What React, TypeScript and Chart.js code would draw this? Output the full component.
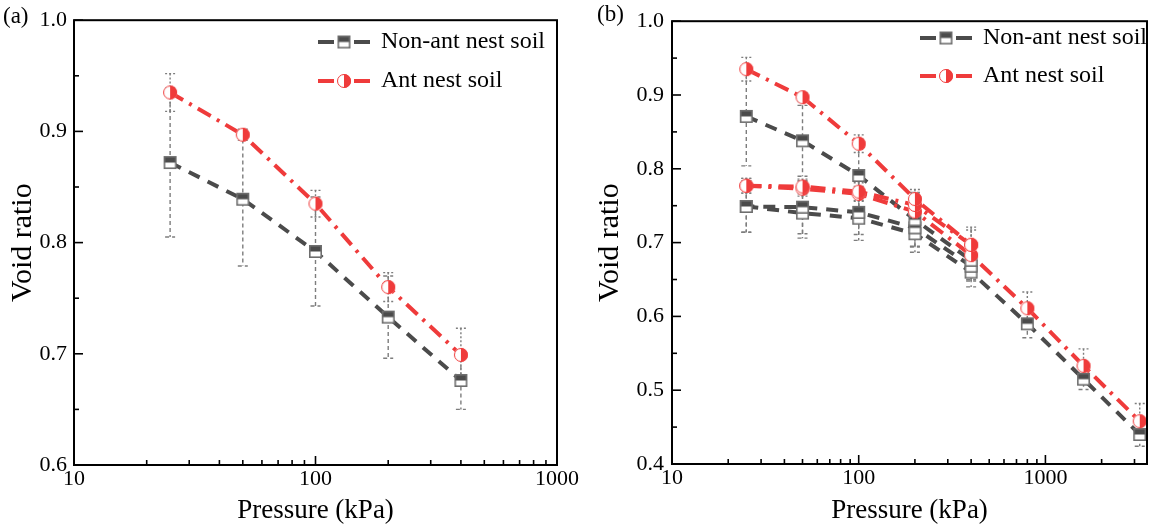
import React, { useEffect, useRef } from 'react';
import { Chart, registerables } from 'chart.js';

Chart.register(...registerables);

const SERIF = "'Liberation Serif', serif";
const GREY = '#4b4b4b';
const RED = '#ef3b3b';
const ERR = '#7d7d7d';

// ---------------- data ----------------
const legendLabels = ['Non-ant nest soil', 'Ant nest soil'];
const panelLabels = ['(a)', '(b)'];
const xTickLabels = [10, 100, 1000];
const yTicksA = [0.6, 0.7, 0.8, 0.9, 1.0];
const yTicksB = [0.4, 0.5, 0.6, 0.7, 0.8, 0.9, 1.0];

// panel (a)
const pressureA = [25, 50, 100, 200, 400];
const nonAntA = [0.872, 0.839, 0.792, 0.733, 0.676];
const nonAntErrA = [0.067, 0.06, 0.049, 0.037, 0.026];
const antA = [0.935, 0.897, 0.835, 0.76, 0.699];
const antErrA = [0.017, 0.005, 0.012, 0.013, 0.024];

// panel (b)
const loadP = [25, 50, 100, 200, 400];
const unloadP = [400, 200, 100, 50, 25];
const reloadP = [25, 50, 100, 200, 400, 800, 1600, 3200];

const nonAntLoadB = [0.871, 0.838, 0.791, 0.731, 0.676];
const nonAntLoadErrB = [0.067, 0.048, 0.049, 0.037, 0.026];
const nonAntUnloadB = [0.668, 0.72, 0.741, 0.748, 0.749];
const nonAntUnloadErrB = [0.02, 0.025, 0.03, 0.036, 0.035];
const nonAntReloadB = [0.749, 0.74, 0.733, 0.712, 0.66, 0.59, 0.515, 0.44];
const nonAntReloadErrB = [0.035, 0.034, 0.03, 0.025, 0.02, 0.019, 0.014, 0.016];

const antLoadB = [0.935, 0.897, 0.834, 0.759, 0.697];
const antLoadErrB = [0.016, 0.006, 0.012, 0.013, 0.024];
const antUnloadB = [0.697, 0.751, 0.769, 0.776, 0.777];
const antUnloadErrB = [0.02, 0.015, 0.012, 0.01, 0.01];
const antReloadB = [0.777, 0.773, 0.766, 0.742, 0.683, 0.611, 0.533, 0.458];
const antReloadErrB = [0.01, 0.01, 0.01, 0.012, 0.015, 0.022, 0.023, 0.024];

// ---------------- markers ----------------
function makeSquare(): HTMLCanvasElement {
  const c = document.createElement('canvas');
  c.width = 15;
  c.height = 15;
  const g = c.getContext('2d')!;
  g.fillStyle = '#ffffff';
  g.fillRect(1, 1, 13, 13);
  g.fillStyle = GREY;
  g.fillRect(1, 1, 13, 6.5);
  g.strokeStyle = '#6e6e6e';
  g.lineWidth = 1.6;
  g.strokeRect(1.8, 1.8, 11.4, 11.4);
  return c;
}

function makeCircle(): HTMLCanvasElement {
  const c = document.createElement('canvas');
  c.width = 16;
  c.height = 16;
  const g = c.getContext('2d')!;
  const cx = 8, cy = 8, r = 7;
  g.fillStyle = '#ffffff';
  g.beginPath();
  g.arc(cx, cy, r, 0, Math.PI * 2);
  g.fill();
  g.fillStyle = RED;
  g.beginPath();
  g.moveTo(cx, cy - r);
  g.arc(cx, cy, r, -Math.PI / 2, Math.PI / 2);
  g.closePath();
  g.fill();
  g.strokeStyle = RED;
  g.lineWidth = 1;
  g.beginPath();
  g.arc(cx, cy, r - 0.5, 0, Math.PI * 2);
  g.stroke();
  return c;
}

type Kind = 'non' | 'ant';
type Series = { x: number[]; y: number[]; err: number[]; kind: Kind };

type PanelCfg = {
  series: Series[];
  xMax: number;
  yMin: number;
  yMax: number;
  yTicks: number[];
  padding: { top: number; right: number; left: number; bottom: number };
  yWidth: number;
  xHeight: number;
  yTitlePad: number;
  yTickPad: number;
  legend: { x: number; y: number; gap: number };
  label: { text: string; x: number; y: number };
};

function buildChart(canvas: HTMLCanvasElement, cfg: PanelCfg): Chart {
  const square = makeSquare();
  const circle = makeCircle();
  const style = (k: Kind) =>
    k === 'non'
      ? { color: GREY, dash: [12, 9], marker: square, errDash: [4, 3] }
      : { color: RED, dash: [15, 7, 3, 7], marker: circle, errDash: [2, 2] };

  // red drawn on top: put 'ant' datasets first
  const ordered = [...cfg.series].sort((a, b) => (a.kind === b.kind ? 0 : a.kind === 'ant' ? -1 : 1));

  const datasets = ordered.map((s) => {
    const st = style(s.kind);
    return {
      label: s.kind,
      data: s.x.map((x, i) => ({ x, y: s.y[i] })),
      borderColor: st.color,
      backgroundColor: st.color,
      borderWidth: 4,
      borderDash: st.dash,
      pointStyle: st.marker,
      pointRadius: 7,
      tension: 0,
      fill: false,
    };
  });

  const xMinor: number[] = [];
  for (let d = 10; d < cfg.xMax; d *= 10) {
    for (let m = 2; m <= 9; m++) {
      if (m * d < cfg.xMax) xMinor.push(m * d);
    }
  }
  const yMinor: number[] = [];
  for (let i = 0; i < cfg.yTicks.length - 1; i++) yMinor.push((cfg.yTicks[i] + cfg.yTicks[i + 1]) / 2);

  const decor = {
    id: 'decor',
    beforeDatasetsDraw(chart: any) {
      const { ctx, scales } = chart;
      ctx.save();
      ctx.strokeStyle = ERR;
      ctx.lineWidth = 1.4;
      ordered.forEach((s, di) => {
        const meta = chart.getDatasetMeta(di);
        ctx.setLineDash(style(s.kind).errDash);
        meta.data.forEach((pt: any, j: number) => {
          const v = s.y[j];
          const e = s.err[j];
          const x = pt.x;
          const y1 = scales.y.getPixelForValue(v + e);
          const y2 = scales.y.getPixelForValue(v - e);
          ctx.beginPath();
          ctx.moveTo(x, y1);
          ctx.lineTo(x, y2);
          ctx.moveTo(x - 5, y1);
          ctx.lineTo(x + 5, y1);
          ctx.moveTo(x - 5, y2);
          ctx.lineTo(x + 5, y2);
          ctx.stroke();
        });
      });
      ctx.restore();
    },
    afterDraw(chart: any) {
      const { ctx, chartArea: a, scales } = chart;
      ctx.save();
      ctx.setLineDash([]);
      ctx.strokeStyle = '#000';
      ctx.lineWidth = 2;
      ctx.strokeRect(a.left, a.top, a.right - a.left, a.bottom - a.top);
      ctx.lineWidth = 1.6;
      const tick = (x1: number, y1: number, x2: number, y2: number) => {
        ctx.beginPath();
        ctx.moveTo(x1, y1);
        ctx.lineTo(x2, y2);
        ctx.stroke();
      };
      xTickLabels.forEach((v) => {
        if (v <= cfg.xMax) {
          const px = scales.x.getPixelForValue(v);
          tick(px, a.bottom, px, a.bottom - 9);
        }
      });
      xMinor.forEach((v) => {
        const px = scales.x.getPixelForValue(v);
        tick(px, a.bottom, px, a.bottom - 5);
      });
      cfg.yTicks.forEach((v) => {
        const py = scales.y.getPixelForValue(v);
        tick(a.left, py, a.left + 9, py);
      });
      yMinor.forEach((v) => {
        const py = scales.y.getPixelForValue(v);
        tick(a.left, py, a.left + 5, py);
      });

      // legend
      const kinds: Kind[] = ['non', 'ant'];
      kinds.forEach((k, i) => {
        const st = style(k);
        const ly = cfg.legend.y + i * cfg.legend.gap;
        const lx = cfg.legend.x;
        ctx.strokeStyle = st.color;
        ctx.lineWidth = 4;
        tick(lx, ly, lx + 16, ly);
        tick(lx + 36, ly, lx + 52, ly);
        ctx.drawImage(st.marker, lx + 26 - st.marker.width / 2, ly - st.marker.height / 2);
        ctx.fillStyle = '#000';
        ctx.font = `24px ${SERIF}`;
        ctx.textBaseline = 'middle';
        ctx.textAlign = 'left';
        ctx.fillText(legendLabels[i], lx + 63, ly);
      });

      // panel label
      ctx.fillStyle = '#000';
      ctx.font = `23px ${SERIF}`;
      ctx.textBaseline = 'middle';
      ctx.textAlign = 'left';
      ctx.fillText(cfg.label.text, cfg.label.x, cfg.label.y);
      ctx.restore();
    },
  };

  return new Chart(canvas, {
    type: 'line',
    data: { datasets: datasets as any },
    plugins: [decor as any],
    options: {
      animation: false,
      responsive: false,
      devicePixelRatio: 1,
      layout: { padding: cfg.padding },
      plugins: { legend: { display: false }, tooltip: { enabled: false } },
      scales: {
        x: {
          type: 'logarithmic',
          min: 10,
          max: cfg.xMax,
          grid: { display: false, drawTicks: false },
          border: { display: false },
          afterBuildTicks: (scale: any) => {
            scale.ticks = xTickLabels.filter((v) => v <= cfg.xMax).map((v) => ({ value: v }));
          },
          afterFit: (scale: any) => {
            scale.height = cfg.xHeight;
          },
          ticks: {
            autoSkip: false,
            maxRotation: 0,
            padding: 1,
            color: '#000',
            font: { family: SERIF, size: 22 },
            callback: (v: any) => String(v),
          },
          title: {
            display: true,
            text: 'Pressure (kPa)',
            color: '#000',
            font: { family: SERIF, size: 27 },
            padding: { top: 0, bottom: 1 },
          },
        },
        y: {
          type: 'linear',
          min: cfg.yMin,
          max: cfg.yMax,
          grid: { display: false, drawTicks: false },
          border: { display: false },
          afterBuildTicks: (scale: any) => {
            scale.ticks = cfg.yTicks.map((v) => ({ value: v }));
          },
          afterFit: (scale: any) => {
            scale.width = cfg.yWidth;
          },
          ticks: {
            autoSkip: false,
            padding: cfg.yTickPad,
            color: '#000',
            font: { family: SERIF, size: 22 },
            callback: (v: any) => Number(v).toFixed(1),
          },
          title: {
            display: true,
            text: 'Void ratio',
            color: '#000',
            font: { family: SERIF, size: 30 },
            padding: { top: cfg.yTitlePad, bottom: 0 },
          },
        },
      },
    } as any,
  });
}

export default function App() {
  const refA = useRef<HTMLCanvasElement>(null);
  const refB = useRef<HTMLCanvasElement>(null);

  useEffect(() => {
    const a = buildChart(refA.current!, {
      series: [
        { x: pressureA, y: nonAntA, err: nonAntErrA, kind: 'non' },
        { x: pressureA, y: antA, err: antErrA, kind: 'ant' },
      ],
      xMax: 1000,
      yMin: 0.6,
      yMax: 1.0,
      yTicks: yTicksA,
      padding: { top: 19, right: 23, left: 0, bottom: 0 },
      yWidth: 74,
      xHeight: 63,
      yTitlePad: 5,
      yTickPad: 7,
      legend: { x: 318, y: 42, gap: 39 },
      label: { text: panelLabels[0], x: 3, y: 17 },
    });
    const b = buildChart(refB.current!, {
      series: [
        { x: loadP, y: nonAntLoadB, err: nonAntLoadErrB, kind: 'non' },
        { x: unloadP, y: nonAntUnloadB, err: nonAntUnloadErrB, kind: 'non' },
        { x: reloadP, y: nonAntReloadB, err: nonAntReloadErrB, kind: 'non' },
        { x: loadP, y: antLoadB, err: antLoadErrB, kind: 'ant' },
        { x: unloadP, y: antUnloadB, err: antUnloadErrB, kind: 'ant' },
        { x: reloadP, y: antReloadB, err: antReloadErrB, kind: 'ant' },
      ],
      xMax: 3500,
      yMin: 0.4,
      yMax: 1.0,
      yTicks: yTicksB,
      padding: { top: 17, right: 10, left: 0, bottom: 0 },
      yWidth: 92,
      xHeight: 64,
      yTitlePad: 12,
      yTickPad: 8,
      legend: { x: 340, y: 38, gap: 38 },
      label: { text: panelLabels[1], x: 17, y: 15 },
    });
    return () => {
      a.destroy();
      b.destroy();
    };
  }, []);

  return (
    <div style={{ position: 'fixed', left: 0, top: 0, width: 1158, height: 528, background: '#fff' }}>
      <canvas ref={refA} width={580} height={528} style={{ position: 'absolute', left: 0, top: 0 }} />
      <canvas ref={refB} width={578} height={528} style={{ position: 'absolute', left: 580, top: 0 }} />
    </div>
  );
}
